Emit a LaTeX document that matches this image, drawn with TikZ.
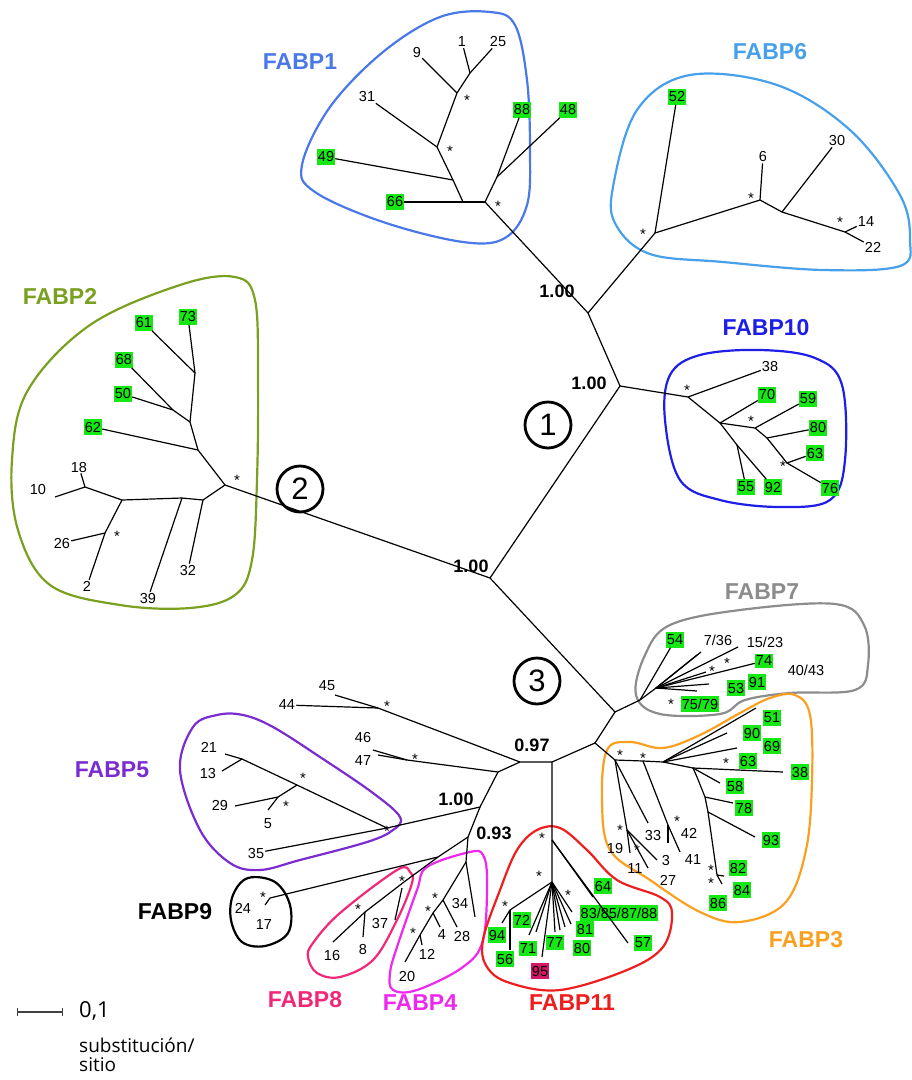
\documentclass[tikz,border=0pt]{standalone}
\usepackage{fontspec}
\setmainfont{Liberation Sans}
\newfontfamily\scalefont{Open Sans}
\usetikzlibrary{arrows.meta}
\definecolor{fabpone}{RGB}{74,120,232}
\definecolor{fabpsix}{RGB}{72,160,235}
\definecolor{fabptwo}{RGB}{122,160,32}
\definecolor{fabpten}{RGB}{30,30,232}
\definecolor{fabpseven}{RGB}{140,140,140}
\definecolor{fabpthree}{RGB}{250,160,32}
\definecolor{fabpfive}{RGB}{122,44,208}
\definecolor{fabpeight}{RGB}{240,40,120}
\definecolor{fabpfour}{RGB}{238,40,238}
\definecolor{fabpeleven}{RGB}{238,30,30}
\definecolor{leafgreen}{RGB}{22,232,22}
\definecolor{leafpink}{RGB}{212,24,104}
\newcommand{\branchwidth}{1.2pt}
\newcommand{\hullwidth}{2.2pt}
\newcommand{\leafsize}{14.5}
\tikzset{
  br/.style={line width=\branchwidth},
  hull/.style={line width=\hullwidth},
  lf/.style={inner sep=1pt, font=\fontsize{\leafsize}{\leafsize}\selectfont},
  gb/.style={lf, fill=leafgreen, inner xsep=1pt, inner ysep=2.5pt},
  pb/.style={lf, fill=leafpink, inner xsep=1pt, inner ysep=2.5pt},
  st/.style={inner sep=0pt, font=\fontsize{15}{15}\selectfont},
  sv/.style={inner sep=0pt, font=\fontsize{18}{18}\selectfont\bfseries},
  grp/.style={inner sep=0pt, font=\fontsize{23}{23}\selectfont\bfseries},
  circnum/.style={circle, draw, line width=2.8pt, minimum size=46pt, inner sep=0pt, font=\fontsize{31}{31}\selectfont}
}

\begin{document}
\begin{tikzpicture}[x=1pt,y=-1pt]
\useasboundingbox (0,0) rectangle (912,1080);
%hulls
\draw[hull, fabpone] plot[smooth cycle, tension=0.6] coordinates {(302,165) (330,107) (383,52) (440,17) (490,12) (515,25) (527,80) (530,150) (527,205) (505,238) (463,242) (383,222) (315,192)};
\draw[hull, fabpsix] plot[smooth cycle, tension=0.6] coordinates {(613,187) (637,110) (690,75) (777,85) (850,130) (900,195) (910,240) (900,266) (823,270) (723,262) (650,254) (616,225)};
\draw[hull, fabptwo] plot[smooth cycle, tension=0.6] coordinates {(235,277) (255,300) (258,380) (257,480) (252,560) (235,595) (190,608) (120,605) (50,585) (18,530) (12,460) (28,390) (90,325) (180,285)};
\draw[hull, fabpten] plot[smooth cycle, tension=0.6] coordinates {(665,420) (670,375) (700,355) (760,350) (815,358) (842,385) (845,460) (830,500) (780,507) (720,500) (680,480)};
\draw[hull, fabpseven] plot[smooth cycle, tension=0.6] coordinates {(636,695) (645,655) (670,625) (740,610) (835,604) (864,625) (868,665) (855,690) (790,693) (745,700) (720,714) (660,714)};
\draw[hull, fabpthree] plot[smooth cycle, tension=0.6] coordinates {(607,750) (630,742) (663,748) (700,735) (740,713) (770,698) (795,695) (810,715) (812,780) (806,850) (785,903) (740,922) (700,912) (650,880) (610,850) (602,800)};
\draw[hull, fabpfive] plot[smooth cycle, tension=0.6] coordinates {(243,715) (273,727) (320,757) (373,793) (400,817) (393,830) (367,842) (300,860) (260,870) (230,863) (200,830) (180,770) (193,727) (217,715)};
\draw[hull, black] plot[smooth cycle, tension=0.6] coordinates {(233,895) (248,878) (275,882) (290,905) (288,933) (265,946) (242,942) (231,920)};
\draw[hull, fabpeight] plot[smooth cycle, tension=0.6] coordinates {(313,943) (340,913) (397,870) (410,872) (412,883) (397,920) (373,960) (340,977) (317,973) (308,957)};
\draw[hull, fabpfour] plot[smooth cycle, tension=0.6] coordinates {(427,867) (470,852) (483,855) (487,880) (483,940) (463,967) (417,990) (393,990) (390,973) (397,947) (417,890)};
\draw[hull, fabpeleven] plot[smooth cycle, tension=0.6] coordinates {(537,830) (560,828) (587,850) (617,880) (660,897) (672,913) (663,947) (627,970) (560,990) (510,983) (487,967) (483,940) (500,890) (517,850)};

%backbone
\coordinate (c0) at (490,578);
\coordinate (n1) at (620,386);
\coordinate (n6) at (588,313);
\coordinate (n3) at (615,712);
\coordinate (n4) at (595,743);
\coordinate (n5) at (552,762);
\coordinate (n7) at (520,762);
\coordinate (n8) at (498,772);
\coordinate (n9) at (480,807);
\coordinate (n10) at (468,837);
\coordinate (n11) at (438,857);
\coordinate (r1) at (485,202);
\coordinate (r6) at (655,233);
\coordinate (r2) at (225,485);
\coordinate (r10) at (688,397);
\coordinate (r7) at (640,700);
\coordinate (r3) at (615,760);
\coordinate (r11) at (552,840);
\coordinate (r5) at (387,828);
\coordinate (r9) at (270,898);
\coordinate (r8) at (404,882);
\coordinate (r4) at (466,862);
\coordinate (g44) at (378,708);
\coordinate (g46) at (407,760);
\draw[br] (r2) -- (c0) -- (n1) -- (n6) -- (r1);
\draw[br] (n6) -- (r6);
\draw[br] (n1) -- (r10);
\draw[br] (c0) -- (n3) -- (r7);
\draw[br] (n3) -- (n4) -- (r3);
\draw[br] (n4) -- (n5) -- (r11);
\draw[br] (n5) -- (n7) -- (g44);
\draw[br] (n7) -- (n8) -- (g46);
\draw[br] (n8) -- (n9) -- (r5);
\draw[br] (n9) -- (n10) -- (r4);
\draw[br] (n10) -- (n11) -- (r9);
\draw[br] (n11) -- (r8);
\node[sv] (v1) at (471,566) {1.00};
\node[sv] (v2) at (589,383) {1.00};
\node[sv] (v3) at (557,291) {1.00};
\node[sv] (v4) at (532,745) {0.97};
\node[sv] (v5) at (456,799) {1.00};
\node[sv] (v6) at (494,833) {0.93};
\node[circnum] (o1) at (548,425) {1};
\node[circnum] (o2) at (300,489) {2};
\node[circnum] (o3) at (537,681) {3};

%FABP1
\coordinate (a1) at (463,202);
\coordinate (a2) at (453,180);
\coordinate (a3) at (437,147);
\coordinate (a4) at (457,93);
\coordinate (a5) at (470,73);
\coordinate (a6) at (497,177);
\node[gb] (t66) at (395,202) {66};
\node[gb] (t49) at (326,157) {49};
\node[lf] (t31) at (367,97) {31};
\node[lf] (t9) at (417,53) {9};
\node[lf] (t1) at (462,42) {1};
\node[lf] (t25) at (498,42) {25};
\node[gb] (t88) at (522,110) {88};
\node[gb] (t48) at (568,110) {48};
\draw[br] (r1) -- (a1) -- (t66);
\draw[br] (a1) -- (a2) -- (a3) -- (a4) -- (a5);
\draw[br] (a2) -- (t49);
\draw[br] (a3) -- (t31);
\draw[br] (a4) -- (t9);
\draw[br] (a5) -- (t1);
\draw[br] (a5) -- (t25);
\draw[br] (r1) -- (a6) -- (t88);
\draw[br] (a6) -- (t48);
\node[st] at (498,206) {*};
\node[st] at (450,151) {*};
\node[st] at (467,100) {*};
\node[grp, fabpone] (l1) at (300,62) {FABP1};

%FABP6
\coordinate (b1) at (760,200);
\coordinate (b2) at (782,212);
\coordinate (b3) at (845,232);
\node[gb] (t52) at (677,97) {52};
\node[lf] (t6) at (763,157) {6};
\node[lf] (t30) at (837,141) {30};
\node[lf] (t14) at (866,222) {14};
\node[lf] (t22) at (873,247) {22};
\draw[br] (r6) -- (t52);
\draw[br] (r6) -- (b1) -- (b2) -- (b3);
\draw[br] (b1) -- (t6);
\draw[br] (b2) -- (t30);
\draw[br] (b3) -- (t14);
\draw[br] (b3) -- (t22);
\node[st] at (643,234) {*};
\node[st] at (751,198) {*};
\node[st] at (840,222) {*};
\node[grp, fabpsix] (l6) at (770,52) {FABP6};

%FABP2
\coordinate (d1) at (198,450);
\coordinate (d2) at (190,422);
\coordinate (d3) at (173,410);
\coordinate (d4) at (195,373);
\coordinate (d5) at (203,500);
\coordinate (d6) at (182,498);
\coordinate (d7) at (122,500);
\coordinate (d8) at (85,487);
\coordinate (d9) at (105,533);
\coordinate (w10) at (55,497);
\node[gb] (t62) at (93,427) {62};
\node[gb] (t50) at (123,394) {50};
\node[gb] (t68) at (124,360) {68};
\node[gb] (t61) at (144,323) {61};
\node[gb] (t73) at (188,317) {73};
\node[lf] (t32) at (188,570) {32};
\node[lf] (t39) at (148,598) {39};
\node[lf] (t18) at (79,467) {18};
\node[lf] (t10) at (38,489) {10};
\node[lf] (t26) at (62,543) {26};
\node[lf] (t2) at (87,586) {2};
\draw[br] (r2) -- (d1) -- (d2) -- (d4);
\draw[br] (d1) -- (t62);
\draw[br] (d2) -- (d3) -- (t50);
\draw[br] (d3) -- (t68);
\draw[br] (d4) -- (t61);
\draw[br] (d4) -- (t73);
\draw[br] (r2) -- (d5) -- (d6) -- (d7) -- (d8) -- (t18);
\draw[br] (d5) -- (t32);
\draw[br] (d6) -- (t39);
\draw[br] (d8) -- (w10);
\draw[br] (d7) -- (d9) -- (t26);
\draw[br] (d9) -- (t2);
\node[st] at (237,480) {*};
\node[st] at (117,536) {*};
\node[grp, fabptwo] (l2) at (60,296) {FABP2};

%FABP10
\coordinate (e1) at (720,423);
\coordinate (e2) at (755,428);
\coordinate (e3) at (737,445);
\coordinate (e5) at (767,438);
\coordinate (e4) at (787,463);
\node[lf] (t38) at (770,367) {38};
\node[gb] (t70) at (767,395) {70};
\node[gb] (t59) at (808,399) {59};
\node[gb] (t80) at (818,428) {80};
\node[gb] (t63) at (815,453) {63};
\node[gb] (t76) at (830,488) {76};
\node[gb] (t55) at (746,487) {55};
\node[gb] (t92) at (773,487) {92};
\draw[br] (r10) -- (t38);
\draw[br] (r10) -- (e1) -- (t70);
\draw[br] (e1) -- (e2) -- (t59);
\draw[br] (e2) -- (e5) -- (t80);
\draw[br] (e5) -- (e4) -- (t63);
\draw[br] (e4) -- (t76);
\draw[br] (e1) -- (e3) -- (t55);
\draw[br] (e3) -- (t92);
\node[st] at (687,390) {*};
\node[st] at (751,421) {*};
\node[st] at (783,466) {*};
\node[grp, fabpten] (l10) at (766,328) {FABP10};

%FABP7
\coordinate (s7) at (656,688);
\coordinate (u1) at (697,655);
\coordinate (u2) at (701,652);
\coordinate (u3) at (738,647);
\coordinate (u4) at (706,672);
\coordinate (u5) at (709,684);
\coordinate (u6) at (697,691);
\node[gb] (t54) at (675,640) {54};
\node[lf] (t736) at (718,640) {7/36};
\node[lf] (t1523) at (765,642) {15/23};
\node[gb] (t74) at (764,661) {74};
\node[lf] (t4043) at (806,670) {40/43};
\node[gb] (t53) at (736,688) {53};
\node[gb] (t91) at (757,682) {91};
\node[gb] (t7579) at (700,704) {75/79};
\draw[br] (r7) -- (t54);
\draw[br] (r7) -- (s7) -- (u1);
\draw[br] (s7) -- (u2);
\draw[br] (s7) -- (u3);
\draw[br] (s7) -- (t74);
\draw[br] (s7) -- (u4);
\draw[br] (s7) -- (u5);
\draw[br] (s7) -- (u6);
\node[st] at (712,671) {*};
\node[st] at (727,663) {*};
\node[st] at (671,704) {*};
\node[grp, fabpseven] (l7) at (762,592) {FABP7};

%FABP3
\coordinate (h1) at (643,761);
\coordinate (h2) at (663,762);
\coordinate (h3) at (693,768);
\coordinate (h4) at (697,777);
\coordinate (h5) at (705,797);
\coordinate (h6) at (708,812);
\coordinate (h7) at (717,875);
\coordinate (h8) at (627,830);
\coordinate (h9) at (668,825);
\coordinate (w51) at (756,708);
\coordinate (w90) at (727,733);
\coordinate (w63) at (737,748);
\coordinate (w38) at (783,772);
\coordinate (w58) at (720,783);
\coordinate (w78) at (733,803);
\coordinate (w93) at (755,837);
\coordinate (w82) at (724,876);
\coordinate (w84) at (722,884);
\coordinate (w11) at (630,853);
\coordinate (w3) at (657,860);
\coordinate (w27) at (648,868);
\coordinate (w33) at (648,823);
\coordinate (w41) at (680,852);
\coordinate (w42) at (668,843);
\node[gb] (t51) at (772,718) {51};
\node[gb] (t90) at (752,733) {90};
\node[gb] (t69) at (772,746) {69};
\node[gb] (t63b) at (748,761) {63};
\node[gb] (t38b) at (800,772) {38};
\node[gb] (t58) at (735,786) {58};
\node[gb] (t78) at (744,808) {78};
\node[gb] (t93) at (771,840) {93};
\node[gb] (t82) at (738,868) {82};
\node[gb] (t84) at (742,890) {84};
\node[gb] (t86) at (718,903) {86};
\node[lf] (t33) at (653,835) {33};
\node[lf] (t19) at (615,848) {19};
\node[lf] (t11) at (635,868) {11};
\node[lf] (t3) at (666,860) {3};
\node[lf] (t27) at (668,880) {27};
\node[lf] (t42) at (689,833) {42};
\node[lf] (t41) at (693,860) {41};
\draw[br] (r3) -- (h1) -- (h2) -- (w51);
\draw[br] (h2) -- (w90);
\draw[br] (h2) -- (w63);
\draw[br] (h2) -- (h3) -- (w38);
\draw[br] (h3) -- (w58);
\draw[br] (h3) -- (h4) -- (h5) -- (h6) -- (h7);
\draw[br] (h5) -- (w78);
\draw[br] (h6) -- (w93);
\draw[br] (h7) -- (w82);
\draw[br] (h7) -- (w84);
\draw[br] (r3) -- (h8) -- (w11);
\draw[br] (h8) -- (w3);
\draw[br] (h8) -- (w27);
\draw[br] (r3) -- (w33);
\draw[br] (h1) -- (h9) -- (w41);
\draw[br] (h9) -- (w42);
\node[st] at (620,755) {*};
\node[st] at (643,758) {*};
\node[st] at (726,763) {*};
\node[st] at (620,830) {*};
\node[st] at (637,850) {*};
\node[st] at (677,821) {*};
\node[st] at (711,870) {*};
\node[st] at (711,883) {*};
\node[grp, fabpthree] (l3) at (806,940) {FABP3};

%FABP11
\coordinate (k1) at (552,882);
\coordinate (k2) at (510,910);
\coordinate (w64) at (593,897);
\coordinate (w57) at (628,943);
\coordinate (w71) at (529,935);
\coordinate (w72) at (536,932);
\coordinate (w95) at (542,957);
\coordinate (w77) at (555,932);
\coordinate (w80) at (560,930);
\coordinate (w81) at (565,927);
\coordinate (w81b) at (571,924);
\coordinate (w83) at (572,912);
\coordinate (w94) at (502,923);
\coordinate (w56) at (510,950);
\node[gb] (t64) at (603,886) {64};
\node[gb] (t83) at (619,913) {83/85/87/88};
\node[gb] (t81) at (585,929) {81};
\node[gb] (t80b) at (582,948) {80};
\node[gb] (t77) at (555,942) {77};
\node[gb] (t71) at (528,948) {71};
\node[gb] (t72) at (522,920) {72};
\node[gb] (t94) at (497,935) {94};
\node[gb] (t56) at (505,959) {56};
\node[pb] (t95) at (540,971) {95};
\node[gb] (t57) at (643,943) {57};
\draw[br] (r11) -- (k1) -- (k2) -- (w94);
\draw[br] (k2) -- (w56);
\draw[br] (r11) -- (w64);
\draw[br] (r11) -- (w57);
\draw[br] (k1) -- (w71);
\draw[br] (k1) -- (w72);
\draw[br] (k1) -- (w95);
\draw[br] (k1) -- (w77);
\draw[br] (k1) -- (w80);
\draw[br] (k1) -- (w81);
\draw[br] (k1) -- (w81b);
\draw[br] (k1) -- (w83);
\node[st] at (542,838) {*};
\node[st] at (539,876) {*};
\node[st] at (505,906) {*};
\node[st] at (568,895) {*};
\node[grp, fabpeleven] (l11) at (572,1003) {FABP11};

%44-47
\node[lf] (t44) at (287,705) {44};
\node[lf] (t45) at (327,686) {45};
\node[lf] (t46) at (363,737) {46};
\node[lf] (t47) at (363,761) {47};
\coordinate (w45) at (335,695);
\coordinate (w46) at (373,750);
\coordinate (w47) at (378,755);
\draw[br] (g44) -- (t44);
\draw[br] (g44) -- (w45);
\draw[br] (g46) -- (w46);
\draw[br] (g46) -- (w47);
\node[st] at (387,706) {*};
\node[st] at (415,759) {*};

%FABP5
\coordinate (m1) at (297,785);
\coordinate (m2) at (278,797);
\coordinate (m3) at (242,759);
\coordinate (w21) at (225,754);
\coordinate (w13) at (222,771);
\coordinate (w29) at (235,806);
\coordinate (w5) at (268,810);
\node[lf] (t35) at (256,853) {35};
\node[lf] (t21) at (209,747) {21};
\node[lf] (t13) at (208,773) {13};
\node[lf] (t29) at (220,805) {29};
\node[lf] (t5) at (268,824) {5};
\draw[br] (r5) -- (t35);
\draw[br] (r5) -- (m1) -- (m3) -- (w21);
\draw[br] (m3) -- (w13);
\draw[br] (m1) -- (m2) -- (w29);
\draw[br] (m2) -- (w5);
\node[st] at (387,831) {*};
\node[st] at (303,778) {*};
\node[st] at (286,806) {*};
\node[grp, fabpfive] (l5) at (112,770) {FABP5};

%FABP9
\node[lf] (t24) at (243,908) {24};
\node[lf] (t17) at (264,924) {17};
\coordinate (w24) at (265,905);
\draw[br] (r9) -- (w24);
\node[st] at (263,897) {*};
\node[grp] (l9) at (175,912) {FABP9};

%FABP8
\coordinate (p1) at (365,912);
\coordinate (p2) at (402,888);
\coordinate (w16) at (333,942);
\coordinate (w8) at (363,937);
\coordinate (w37) at (395,920);
\node[lf] (t16) at (332,955) {16};
\node[lf] (t8) at (363,949) {8};
\node[lf] (t37) at (380,923) {37};
\draw[br] (r8) -- (p1) -- (w16);
\draw[br] (p1) -- (w8);
\draw[br] (p2) -- (w37);
\node[st] at (402,881) {*};
\node[st] at (358,909) {*};
\node[grp, fabpeight] (l8) at (305,1000) {FABP8};

%FABP4
\coordinate (q1) at (443,900);
\coordinate (q2) at (433,913);
\coordinate (q3) at (420,935);
\coordinate (w34) at (475,917);
\coordinate (w28) at (457,927);
\coordinate (w4) at (440,927);
\coordinate (w12) at (422,945);
\coordinate (w20) at (405,962);
\node[lf] (t34) at (460,903) {34};
\node[lf] (t28) at (462,936) {28};
\node[lf] (t4) at (442,934) {4};
\node[lf] (t12) at (427,954) {12};
\node[lf] (t20) at (407,976) {20};
\draw[br] (r4) -- (w34);
\draw[br] (r4) -- (q1) -- (q2) -- (q3) -- (w20);
\draw[br] (q1) -- (w28);
\draw[br] (q2) -- (w4);
\draw[br] (q3) -- (w12);
\node[st] at (435,898) {*};
\node[st] at (428,911) {*};
\node[st] at (413,933) {*};
\node[grp, fabpfour] (l4) at (420,1003) {FABP4};

%scale
\coordinate (s1) at (17,1012);
\coordinate (s2) at (63,1012);
\draw[line width=1.2pt, black!75, {Bar[width=8pt]}-{Bar[width=8pt]}] (s1) -- (s2);
\node[anchor=base west, inner sep=0pt, font=\scalefont\fontsize{22}{22}\selectfont] (s3) at (79,1017) {0,1};
\node[anchor=base west, inner sep=0pt, font=\scalefont\fontsize{19}{19}\selectfont] (s4) at (79,1052) {substitución/};
\node[anchor=base west, inner sep=0pt, font=\scalefont\fontsize{19}{19}\selectfont] (s5) at (79,1071) {sitio};
\end{tikzpicture}
\end{document}
